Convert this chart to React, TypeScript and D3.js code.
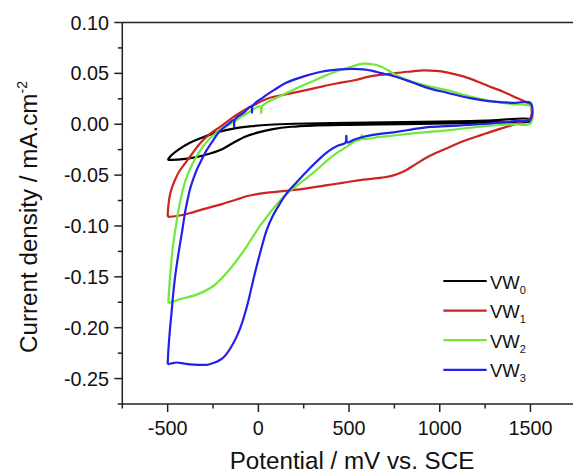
import React from 'react';
import * as d3 from 'd3';

// ---------- data (potential mV, current density mA.cm-2) ----------
const seriesLabels = ['0', '1', '2', '3'];
const seriesColors = ['#000000', '#cc2323', '#6fe83a', '#2121e8'];

const vw0: [number, number][] = [
  [-500, -0.035], [-482, -0.031], [-440, -0.025], [-380, -0.0185], [-300, -0.0125], [-220, -0.0075],
  [-130, -0.004], [-40, -0.002], [60, -0.0005], [200, 0.0005], [400, 0.0012], [700, 0.0018],
  [1000, 0.0025], [1250, 0.0035], [1500, 0.0048],
  [1500, 0.003], [1300, 0.0018], [1050, 0.0008], [800, 0.0], [500, -0.0006], [300, -0.0013],
  [180, -0.0025], [80, -0.0048], [0, -0.008], [-70, -0.012], [-140, -0.0185], [-200, -0.0245],
  [-270, -0.029], [-350, -0.0325], [-430, -0.0345], [-500, -0.035],
];

const vw1: [number, number][] = [
  [-500, -0.091], [-496, -0.08], [-489, -0.071], [-476, -0.062], [-460, -0.055], [-435, -0.046],
  [-404, -0.0385], [-365, -0.029], [-322, -0.019], [-270, -0.01], [-211, -0.0026], [-150, 0.0055],
  [-90, 0.0125], [-28, 0.0186], [64, 0.026], [156, 0.0295], [250, 0.033], [340, 0.0366],
  [430, 0.04], [523, 0.043], [616, 0.047], [700, 0.049], [763, 0.0505], [850, 0.052],
  [910, 0.053], [980, 0.0525], [1038, 0.051], [1130, 0.047], [1222, 0.041], [1290, 0.036],
  [1350, 0.032], [1410, 0.027], [1460, 0.023], [1500, 0.0186],
  [1500, 0.006], [1450, 0.0025], [1380, -0.002], [1314, -0.0055], [1230, -0.0105], [1140, -0.016],
  [1040, -0.0235], [946, -0.031], [870, -0.039], [800, -0.0465], [740, -0.0505], [680, -0.0525],
  [579, -0.0545], [500, -0.0565], [432, -0.0585], [340, -0.061], [248, -0.0635], [150, -0.0655],
  [64, -0.067], [0, -0.0685], [-60, -0.0705], [-119, -0.074], [-210, -0.079], [-303, -0.0835],
  [-380, -0.0875], [-450, -0.0902], [-500, -0.091],
];

const vw2: [number, number][] = [
  [-496, -0.176], [-493, -0.165], [-488, -0.153], [-480, -0.136], [-471, -0.12], [-458, -0.104],
  [-443, -0.0876], [-425, -0.071], [-401, -0.055], [-362, -0.0385], [-306, -0.022], [-262, -0.013],
  [-211, -0.0059], [-140, 0.002], [-64, 0.0105], [10, 0.0175], [16, 0.011], [22, 0.018],
  [101, 0.026], [200, 0.0345], [303, 0.0425], [380, 0.0485], [450, 0.053], [520, 0.057],
  [579, 0.0595], [630, 0.059], [671, 0.057], [720, 0.0525], [763, 0.048], [854, 0.0415],
  [950, 0.037], [1038, 0.0335], [1130, 0.029], [1222, 0.025], [1314, 0.022], [1405, 0.0196],
  [1500, 0.0176],
  [1500, 0.0007], [1410, -0.0002], [1314, -0.001], [1220, -0.0025], [1130, -0.0042], [1040, -0.006],
  [946, -0.0075], [850, -0.009], [763, -0.0108], [670, -0.0125], [575, -0.0142], [570, -0.0105],
  [565, -0.0145], [530, -0.017], [487, -0.022], [432, -0.0285], [380, -0.0355], [330, -0.0435],
  [280, -0.051], [248, -0.0555], [200, -0.062], [156, -0.0685], [110, -0.077], [64, -0.087],
  [9, -0.1], [-64, -0.12], [-120, -0.134], [-174, -0.146], [-248, -0.159], [-340, -0.1675],
  [-432, -0.172], [-496, -0.176],
];

const vw3: [number, number][] = [
  [-500, -0.236], [-497, -0.225], [-492, -0.212], [-486, -0.199], [-479, -0.186], [-471, -0.17],
  [-461, -0.153], [-448, -0.136], [-434, -0.12], [-419, -0.104], [-405, -0.0876], [-391, -0.075],
  [-378, -0.0647], [-361, -0.055], [-340, -0.045], [-313, -0.035], [-285, -0.0255], [-250, -0.016],
  [-211, -0.0065], [-170, -0.0005], [-136, 0.004], [-133, -0.003], [-130, 0.0045], [-80, 0.0115],
  [-38, 0.0175], [-35, 0.0115], [-32, 0.018], [27, 0.0265], [90, 0.034], [156, 0.041],
  [250, 0.047], [340, 0.0513], [395, 0.053], [450, 0.054], [520, 0.0545], [579, 0.054],
  [630, 0.0525], [671, 0.0505], [763, 0.0464], [850, 0.041], [946, 0.035], [1040, 0.031],
  [1130, 0.027], [1222, 0.024], [1314, 0.022], [1410, 0.021], [1500, 0.021],
  [1500, 0.0046], [1410, 0.003], [1314, 0.0013], [1220, 0.0], [1130, -0.001], [1040, -0.0018],
  [946, -0.0026], [850, -0.005], [763, -0.0075], [670, -0.0095], [579, -0.0124], [530, -0.015],
  [490, -0.0178], [485, -0.0115], [480, -0.0182], [440, -0.021], [395, -0.0255], [340, -0.0335],
  [280, -0.044], [211, -0.057], [156, -0.068], [119, -0.078], [80, -0.09], [46, -0.104],
  [9, -0.127], [-28, -0.153], [-50, -0.17], [-73, -0.1856], [-95, -0.198], [-119, -0.2085],
  [-150, -0.219], [-174, -0.2255], [-200, -0.2305], [-230, -0.2335], [-260, -0.2355], [-285, -0.2365],
  [-330, -0.2365], [-377, -0.236], [-410, -0.2352], [-450, -0.2342], [-480, -0.2352], [-500, -0.236],
];

const allSeries = [vw0, vw1, vw2, vw3];

const xMajorTicks = [-500, 0, 500, 1000, 1500];
const xMinorTicks = [-750, -250, 250, 750, 1250, 1750];
const yMajorTicks = [-0.25, -0.2, -0.15, -0.1, -0.05, 0.0, 0.05, 0.1];
const yMinorTicks = [-0.275, -0.225, -0.175, -0.125, -0.075, -0.025, 0.025, 0.075];

const xTitle = 'Potential / mV vs. SCE';
const yTitle = 'Current density / mA.cm';
const yTitleSup = '-2';
const legendBase = 'VW';

export default function App() {
  const W = 573;
  const H = 474;
  const x = d3.scaleLinear().domain([-750, 1750]).range([122.3, 575.8]);
  const y = d3.scaleLinear().domain([-0.275, 0.1]).range([404, 22.5]);
  const line = d3
    .line<[number, number]>()
    .x((d) => x(d[0]))
    .y((d) => y(d[1]))
    .curve(d3.curveCatmullRom.alpha(0.5));

  const font = "'Liberation Sans', Arial, sans-serif";
  const x0 = x(-750);
  const y0 = y(-0.275);
  const yTop = y(0.1);
  const xRight = x(1750);

  return (
    <svg
      width={W}
      height={H}
      style={{ position: 'absolute', left: 0, top: 0, background: '#fff' }}
      fontFamily={font}
    >
      <rect x={0} y={0} width={W} height={H} fill="#fff" />
      {/* curves */}
      <g fill="none" strokeWidth={2.2} strokeLinejoin="round">
        {allSeries.map((s, i) => (
          <path key={i} d={line(s) || ''} stroke={seriesColors[i]} />
        ))}
      </g>
      {/* frame */}
      <g stroke="#222" strokeWidth={1.5} fill="none">
        <line x1={x0} y1={yTop} x2={xRight} y2={yTop} />
        <line x1={xRight} y1={yTop} x2={xRight} y2={y0} />
        <line x1={x0} y1={yTop} x2={x0} y2={y0} />
        <line x1={x0} y1={y0} x2={xRight} y2={y0} />
        {xMajorTicks.map((t) => (
          <line key={'xm' + t} x1={x(t)} x2={x(t)} y1={y0} y2={y0 + 8} />
        ))}
        {xMinorTicks.map((t) => (
          <line key={'xn' + t} x1={x(t)} x2={x(t)} y1={y0} y2={y0 + 4.5} />
        ))}
        {yMajorTicks.map((t) => (
          <line key={'ym' + t} x1={x0 - 8} x2={x0} y1={y(t)} y2={y(t)} />
        ))}
        {yMinorTicks.map((t) => (
          <line key={'yn' + t} x1={x0 - 4.5} x2={x0} y1={y(t)} y2={y(t)} />
        ))}
      </g>
      {/* tick labels */}
      <g fontSize={19.8} fill="#111">
        {xMajorTicks.map((t) => (
          <text key={'xl' + t} x={x(t)} y={434.5} textAnchor="middle">
            {String(t)}
          </text>
        ))}
        {yMajorTicks.map((t) => (
          <text key={'yl' + t} x={109} y={y(t) + 7} textAnchor="end">
            {d3.format('.2f')(t).replace('−', '-')}
          </text>
        ))}
      </g>
      {/* axis titles */}
      <text x={352} y={469.3} textAnchor="middle" fontSize={24.2} fill="#111">
        {xTitle}
      </text>
      <text
        transform="translate(36.5,217) rotate(-90)"
        textAnchor="middle"
        fontSize={24.2}
        fill="#111"
      >
        {yTitle}
        <tspan fontSize={14} dy={-10}>
          {yTitleSup}
        </tspan>
      </text>
      {/* legend */}
      <g>
        {seriesLabels.map((lab, i) => {
          const ly = 281 + i * 29.6;
          return (
            <g key={'lg' + i}>
              <line x1={443.3} x2={486.7} y1={ly} y2={ly} stroke={seriesColors[i]} strokeWidth={2.2} />
              <text x={490} y={ly + 7.5} fontSize={18.5} fill="#111">
                {legendBase}
                <tspan fontSize={11} dy={5}>
                  {lab}
                </tspan>
              </text>
            </g>
          );
        })}
      </g>
    </svg>
  );
}
